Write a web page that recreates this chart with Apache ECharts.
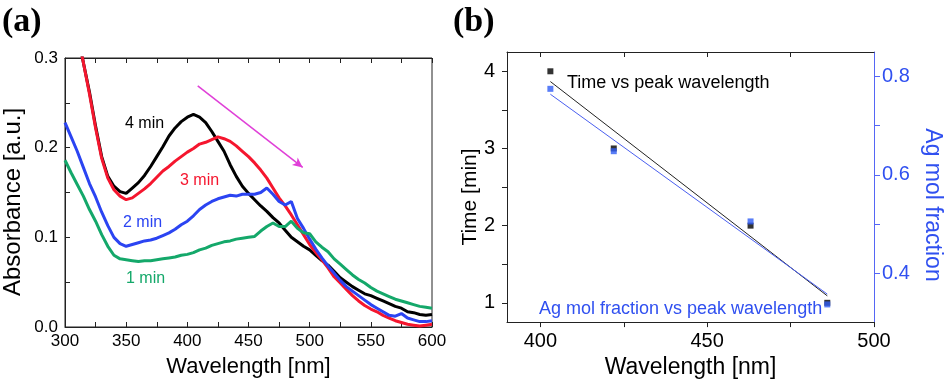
<!DOCTYPE html>
<html><head><meta charset="utf-8">
<script src="https://cdn.jsdelivr.net/npm/echarts@6/dist/echarts.min.js"></script>
<style>html,body{margin:0;padding:0;background:#fff}#c{width:945px;height:384px}</style>
</head><body><div id="c"></div>
<script>
// ---------- Panel (a): absorbance spectra ----------
const wavelength = [300,305,310,315,320,325,330,335,340,345,350,355,360,365,370,375,380,385,390,395,400,405,410,415,420,425,430,435,440,445,450,455,460,465,470,475,480,485,490,495,500,505,510,515,520,525,530,535,540,545,550,555,560,565,570,575,580,585,590,595,600];
const abs4min = [0.400,0.365,0.330,0.295,0.262,0.224,0.190,0.168,0.157,0.151,0.149,0.155,0.161,0.169,0.179,0.190,0.201,0.213,0.222,0.229,0.234,0.237,0.234,0.228,0.218,0.207,0.196,0.181,0.168,0.157,0.149,0.142,0.135,0.129,0.122,0.116,0.108,0.100,0.095,0.090,0.086,0.080,0.074,0.069,0.062,0.055,0.050,0.045,0.041,0.037,0.035,0.032,0.029,0.026,0.023,0.021,0.017,0.016,0.014,0.013,0.014];
const abs3min = [0.400,0.365,0.330,0.295,0.260,0.222,0.188,0.166,0.153,0.146,0.142,0.144,0.149,0.154,0.160,0.167,0.174,0.179,0.185,0.190,0.195,0.199,0.204,0.206,0.209,0.212,0.210,0.207,0.202,0.196,0.190,0.183,0.175,0.166,0.155,0.144,0.135,0.125,0.114,0.103,0.092,0.083,0.075,0.066,0.056,0.049,0.042,0.035,0.029,0.024,0.020,0.017,0.013,0.010,0.007,0.005,0.003,0.002,0.001,0.002,0.003];
const abs2min = [0.228,0.212,0.196,0.178,0.160,0.145,0.128,0.113,0.100,0.093,0.090,0.092,0.094,0.096,0.097,0.099,0.102,0.105,0.109,0.114,0.118,0.124,0.131,0.136,0.140,0.143,0.145,0.147,0.146,0.148,0.148,0.148,0.150,0.155,0.148,0.140,0.136,0.140,0.121,0.110,0.098,0.087,0.077,0.068,0.060,0.052,0.045,0.040,0.035,0.030,0.025,0.021,0.017,0.013,0.012,0.015,0.010,0.008,0.006,0.006,0.007];
const abs1min = [0.186,0.172,0.159,0.146,0.131,0.118,0.103,0.090,0.080,0.076,0.075,0.074,0.073,0.074,0.074,0.075,0.076,0.077,0.078,0.080,0.081,0.083,0.086,0.088,0.091,0.093,0.095,0.096,0.098,0.099,0.100,0.101,0.107,0.112,0.116,0.112,0.112,0.118,0.110,0.105,0.104,0.095,0.089,0.084,0.076,0.070,0.064,0.058,0.053,0.049,0.044,0.040,0.037,0.034,0.031,0.029,0.027,0.025,0.023,0.022,0.021];
const arrowStart = [408.5, 0.269];
const arrowEnd = [494.3, 0.178];
const curveLabels = ['4 min','3 min','2 min','1 min'];

// ---------- Panel (b): peak wavelength ----------
const peakWavelength = [403, 422, 463, 486];
const timeMin = [4, 3, 2, 1];
const agFraction = [0.775, 0.648, 0.505, 0.336];
const fitX = [403, 486];
const fitTime = [3.867, 1.09];
const fitAg = [0.764, 0.357];
const panelBXTicks = [400, 425, 450, 475, 500];
const panelBXLabels = [400, 450, 500];
const timeTicks = [1, 1.5, 2, 2.5, 3, 3.5, 4];
const timeLabels = [1, 2, 3, 4];
const agTicks = [0.4, 0.5, 0.6, 0.7, 0.8];
const agLabels = [0.4, 0.6, 0.8];

const SANS = '"Liberation Sans", Arial, sans-serif';
const BLACK = '#000000', RED = '#f5162e', BLUE = '#2b44f2', GREEN = '#14a86a', MAGENTA = '#e040d8';
const BBLUE = '#3050f0';

const pair = (xs, ys) => xs.map((x, i) => [x, ys[i]]);

const chart = echarts.init(document.getElementById('c'), null, {renderer: 'canvas'});
const tickLbl = (size, color) => ({color: color || '#000', fontSize: size, fontFamily: SANS});

chart.setOption({
  animation: false,
  backgroundColor: '#fff',
  grid: [
    {left: 65, top: 58, width: 367, height: 269, show: true, borderColor: '#222', borderWidth: 1},
    {left: 507, top: 52, width: 367, height: 275, show: false}
  ],
  xAxis: [
    {gridIndex: 0, type: 'value', min: 300, max: 600, interval: 50, position: 'bottom',
     axisLine: {show: true, lineStyle: {color: '#222'}},
     axisTick: {show: true, inside: true, length: 5, lineStyle: {color: '#222'}},
     minorTick: {show: true, splitNumber: 2, length: 5, lineStyle: {color: '#222'}},
     splitLine: {show: false},
     axisLabel: Object.assign(tickLbl(17), {margin: 6}),
     name: 'Wavelength [nm]', nameLocation: 'middle', nameGap: 29,
     nameTextStyle: {fontSize: 22, fontFamily: SANS, color: '#000'}},
    {gridIndex: 0, type: 'value', min: 300, max: 600, interval: 50, position: 'top',
     axisLine: {show: true, lineStyle: {color: '#222'}},
     axisTick: {show: true, inside: true, length: 5, lineStyle: {color: '#222'}},
     minorTick: {show: true, splitNumber: 2, length: 5, lineStyle: {color: '#222'}},
     splitLine: {show: false}, axisLabel: {show: false}},
    {gridIndex: 1, type: 'value', min: 390, max: 500, position: 'bottom',
     axisLine: {show: true, lineStyle: {color: '#222'}},
     axisTick: {show: true, inside: false, length: 5, customValues: panelBXTicks, lineStyle: {color: '#222'}},
     splitLine: {show: false},
     axisLabel: Object.assign(tickLbl(20), {margin: 9, customValues: panelBXLabels}),
     name: 'Wavelength [nm]', nameLocation: 'middle', nameGap: 29,
     nameTextStyle: {fontSize: 23, fontFamily: SANS, color: '#000'}},
    {gridIndex: 1, type: 'value', min: 390, max: 500, position: 'top',
     axisLine: {show: true, lineStyle: {color: '#222'}},
     axisTick: {show: true, inside: true, length: 5, customValues: [400, 425, 450, 475], lineStyle: {color: '#222'}},
     splitLine: {show: false}, axisLabel: {show: false}}
  ],
  yAxis: [
    {gridIndex: 0, type: 'value', min: 0, max: 0.3, interval: 0.1, position: 'left',
     axisLine: {show: true, lineStyle: {color: '#222'}},
     axisTick: {show: true, inside: true, length: 5, lineStyle: {color: '#222'}},
     minorTick: {show: true, splitNumber: 2, length: 5, lineStyle: {color: '#222'}},
     splitLine: {show: false},
     axisLabel: Object.assign(tickLbl(17), {margin: 7, formatter: v => v.toFixed(1)})},
    {gridIndex: 1, type: 'value', min: 0.75, max: 4.25, position: 'left',
     axisLine: {show: true, lineStyle: {color: '#222'}},
     axisTick: {show: true, inside: false, length: 5, customValues: timeTicks, lineStyle: {color: '#222'}},
     splitLine: {show: false},
     axisLabel: Object.assign(tickLbl(20), {margin: 12, customValues: timeLabels})},
    {gridIndex: 1, type: 'value', min: 0.3, max: 0.85, position: 'right',
     axisLine: {show: true, lineStyle: {color: '#5566f5'}},
     axisTick: {show: true, inside: false, length: 6, customValues: agTicks, lineStyle: {color: '#5566f5'}},
     splitLine: {show: false},
     axisLabel: Object.assign(tickLbl(20, BBLUE), {margin: 8, customValues: agLabels, formatter: v => v.toFixed(1)})}
  ],
  series: [
    {name: '4 min', type: 'line', xAxisIndex: 0, yAxisIndex: 0, data: pair(wavelength, abs4min),
     showSymbol: false, lineStyle: {color: BLACK, width: 3}, clip: true},
    {name: '3 min', type: 'line', xAxisIndex: 0, yAxisIndex: 0, data: pair(wavelength, abs3min),
     showSymbol: false, lineStyle: {color: RED, width: 3}, clip: true},
    {name: '2 min', type: 'line', xAxisIndex: 0, yAxisIndex: 0, data: pair(wavelength, abs2min),
     showSymbol: false, lineStyle: {color: BLUE, width: 3}, clip: true},
    {name: '1 min', type: 'line', xAxisIndex: 0, yAxisIndex: 0, data: pair(wavelength, abs1min),
     showSymbol: false, lineStyle: {color: GREEN, width: 3}, clip: true},
    {name: 'arrow', type: 'line', xAxisIndex: 0, yAxisIndex: 0, data: [],
     markLine: {silent: true, symbol: ['none', 'arrow'], symbolSize: [7, 10], label: {show: false},
       lineStyle: {color: MAGENTA, width: 1.5, type: 'solid'},
       data: [[{coord: arrowStart}, {coord: arrowEnd}]]}},
    {name: 'Time fit', type: 'line', xAxisIndex: 2, yAxisIndex: 1, data: pair(fitX, fitTime),
     showSymbol: false, lineStyle: {color: '#222', width: 1}},
    {name: 'Ag fit', type: 'line', xAxisIndex: 2, yAxisIndex: 2, data: pair(fitX, fitAg),
     showSymbol: false, lineStyle: {color: '#4a5ff0', width: 1}},
    {name: 'Time', type: 'scatter', xAxisIndex: 2, yAxisIndex: 1, data: pair(peakWavelength, timeMin),
     symbol: 'rect', symbolSize: 6, itemStyle: {color: '#000'}},
    {name: 'Ag', type: 'scatter', xAxisIndex: 2, yAxisIndex: 2, data: pair(peakWavelength, agFraction),
     symbol: 'rect', symbolSize: 6, itemStyle: {color: '#2f5cf5'}}
  ],
  graphic: [
    {type: 'text', x: 2, y: 22, style: {text: '(a)', font: 'bold 34px "Liberation Serif", "Times New Roman", serif', fill: '#000', verticalAlign: 'middle'}},
    {type: 'text', x: 453, y: 22, style: {text: '(b)', font: 'bold 34px "Liberation Serif", "Times New Roman", serif', fill: '#000', verticalAlign: 'middle'}},
    {type: 'text', x: 13, y: 202, rotation: Math.PI / 2, style: {text: 'Absorbance [a.u.]', font: '24px ' + SANS, fill: '#000', align: 'center', verticalAlign: 'middle'}},
    {type: 'text', x: 470, y: 197, rotation: Math.PI / 2, style: {text: 'Time [min]', font: '21px ' + SANS, fill: '#000', align: 'center', verticalAlign: 'middle'}},
    {type: 'text', x: 932, y: 205, rotation: -Math.PI / 2, style: {text: 'Ag mol fraction', font: '23px ' + SANS, fill: BBLUE, align: 'center', verticalAlign: 'middle'}},
    {type: 'text', x: 125, y: 124, style: {text: curveLabels[0], font: '16px ' + SANS, fill: BLACK, verticalAlign: 'middle'}},
    {type: 'text', x: 180, y: 181, style: {text: curveLabels[1], font: '16px ' + SANS, fill: RED, verticalAlign: 'middle'}},
    {type: 'text', x: 123, y: 223, style: {text: curveLabels[2], font: '16px ' + SANS, fill: BLUE, verticalAlign: 'middle'}},
    {type: 'text', x: 126, y: 279, style: {text: curveLabels[3], font: '16px ' + SANS, fill: GREEN, verticalAlign: 'middle'}},
    {type: 'text', x: 567, y: 83, style: {text: 'Time vs peak wavelength', font: '18px ' + SANS, fill: '#000', verticalAlign: 'middle'}},
    {type: 'text', x: 539, y: 309, style: {text: 'Ag mol fraction vs peak wavelength', font: '18px ' + SANS, fill: BBLUE, verticalAlign: 'middle'}}
  ]
});
</script>
</body></html>
